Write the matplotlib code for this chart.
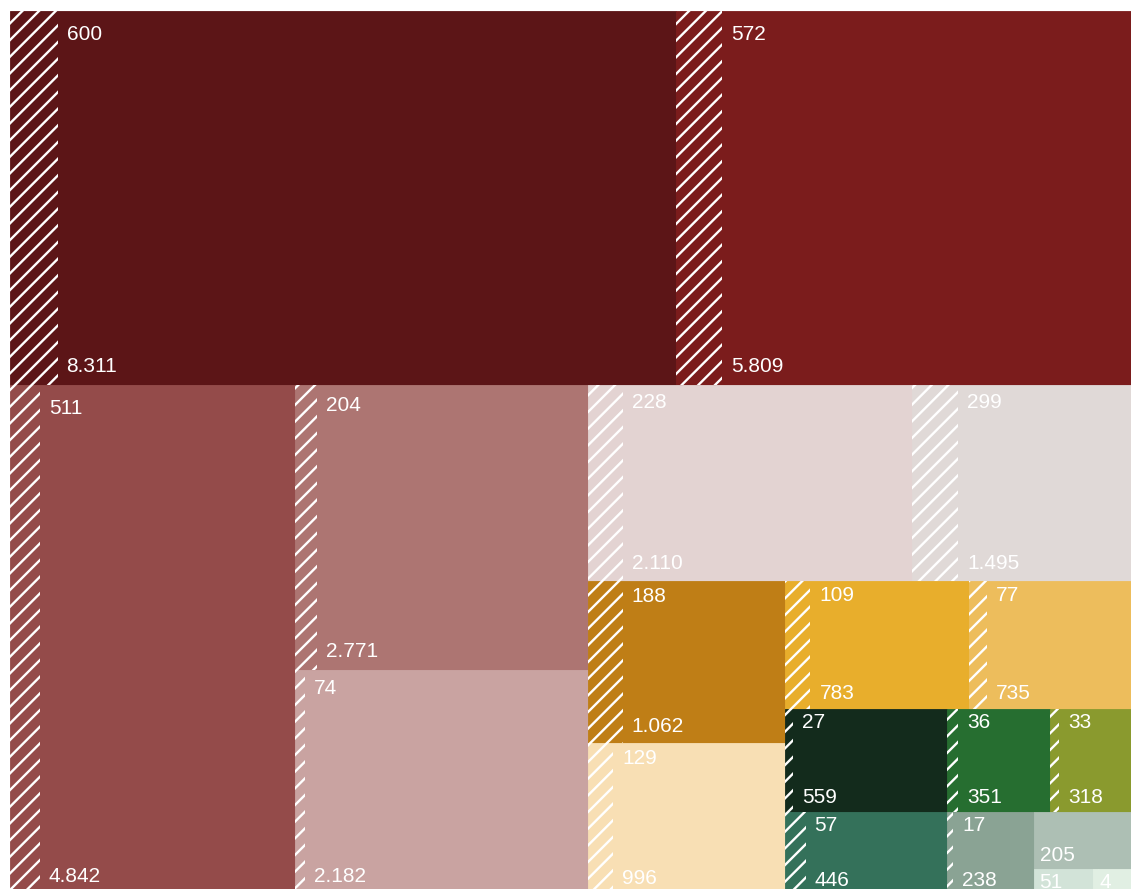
import matplotlib
matplotlib.use("Agg")
import matplotlib.pyplot as plt
from matplotlib.patches import Rectangle

# ---- data ----
totals = [8311, 5809, 4842, 2771, 2182, 2110, 1495, 1062, 996, 783, 735,
          559, 351, 318, 446, 238, 205, 51, 4, 38]
hatched = [600, 572, 511, 204, 74, 228, 299, 188, 129, 109, 77,
           27, 36, 33, 57, 17, 0, 0, 0, 0]
labelled = [True] * 19 + [False]   # last cell: small unlabeled remainder
colors = ["#5C1517", "#7B1C1C", "#944B4A", "#AD7572", "#C9A3A1", "#E3D3D2",
          "#E0D9D7", "#BF7E16", "#F8DFB4", "#E8AE2C", "#EDBD5C",
          "#132B1C", "#266E30", "#8A9A2E", "#34715A", "#8AA394", "#ADBFB4",
          "#D2E3D8", "#E1EFE3", "#E1EFE3"]

# strip structure of the treemap ('h' = side by side, 'v' = stacked)
tree = ('v', [('h', [0, 1]),
              ('h', [2, ('v', [3, 4]),
                     ('v', [('h', [5, 6]),
                            ('h', [('v', [7, 8]),
                                   ('v', [('h', [9, 10]),
                                          ('h', [11, 12, 13]),
                                          ('h', [14, 15, ('v', [16, ('h', [17, 18, 19])])])])])])])])


def node_value(n):
    if isinstance(n, int):
        return totals[n]
    return sum(node_value(c) for c in n[1])


def place(n, x0, y0, x1, y1, out):
    if isinstance(n, int):
        out[n] = (x0, y0, x1, y1)
        return
    orient, kids = n
    tot = node_value(n)
    pos = x0 if orient == 'h' else y0
    for k in kids:
        frac = node_value(k) / tot
        if orient == 'h':
            w = (x1 - x0) * frac
            place(k, pos, y0, pos + w, y1, out)
            pos += w
        else:
            h = (y1 - y0) * frac
            place(k, x0, pos, x1, pos + h, out)
            pos += h


plt.rcParams['hatch.linewidth'] = 1.7
plt.rcParams['font.family'] = ['Liberation Sans', 'DejaVu Sans']

W, H = 1131, 889
fig = plt.figure(figsize=(W / 100, H / 100), dpi=100)
ax = fig.add_axes([0, 0, 1, 1])
ax.set_xlim(0, W)
ax.set_ylim(H, 0)
ax.axis('off')

rects = {}
place(tree, 9.5, 10.5, 1142, 894.5, rects)


def fmt(v):
    return f"{v:,}".replace(",", ".")


for i, (x0, y0, x1, y1) in rects.items():
    w, h = x1 - x0, y1 - y0
    c = colors[i]
    ax.add_patch(Rectangle((x0, y0), w, h, facecolor=c, edgecolor=c, lw=0.6))
    hw = w * hatched[i] / totals[i]
    if hatched[i] > 0:
        ax.add_patch(Rectangle((x0, y0), hw, h, facecolor='none',
                               edgecolor='white', lw=0, hatch='//'))
    if not labelled[i]:
        continue
    tx = x0 + hw + (9 if hatched[i] > 0 else 6)
    if hatched[i] > 0:
        pad_top = min(15, max(3.5, 0.035 * h + 2))
        ax.text(tx, y0 + pad_top - 1, fmt(hatched[i]), color='white',
                fontsize=15, ha='left', va='top')
    pad_bot = min(13, max(5, 0.03 * h + 6))
    ax.text(tx, y1 - pad_bot, fmt(totals[i]), color='white',
            fontsize=15, ha='left', va='baseline')

fig.savefig("out.png", dpi=100)
